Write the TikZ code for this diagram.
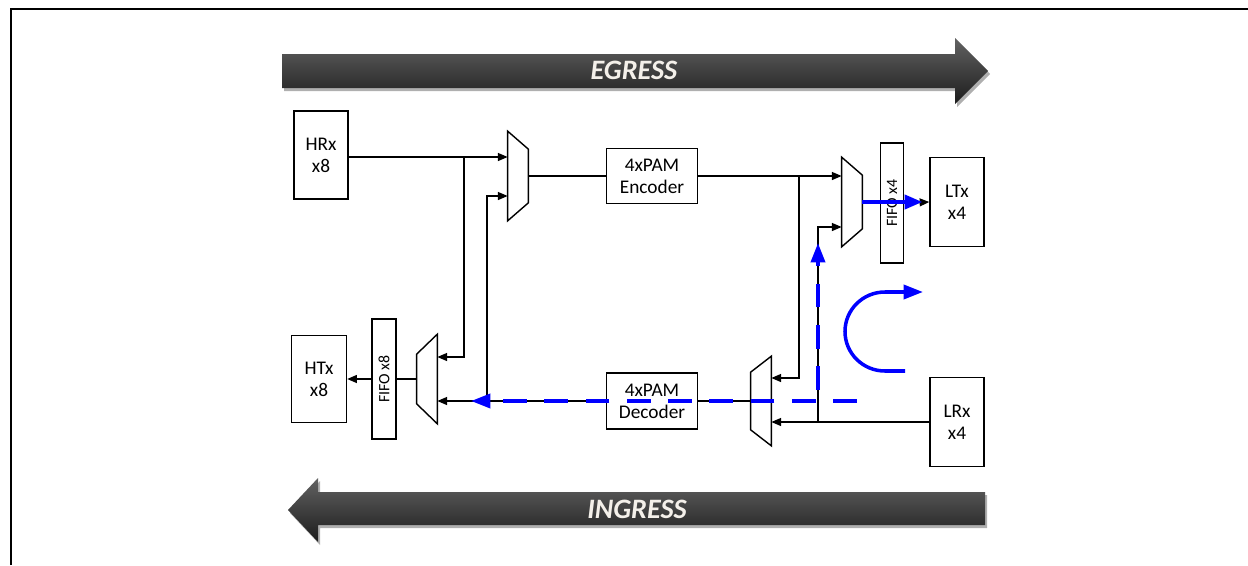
\documentclass[tikz,border=0pt]{standalone}
\usepackage{fontspec}
\setmainfont{Carlito}
\usepackage{tikz}
\usetikzlibrary{arrows.meta, positioning, calc}
\definecolor{path_blue}{RGB}{0, 0, 255}
\definecolor{band_top}{RGB}{98, 98, 98}
\definecolor{band_bot}{RGB}{28, 28, 28}
\definecolor{band_shadow}{RGB}{175, 175, 175}
\definecolor{band_text}{RGB}{244, 240, 234}
\tikzstyle{arrow} = [line width=0.8pt,-{Triangle[length=5.5pt,width=4.5pt]}]
\tikzstyle{wire} = [line width=0.8pt]
\tikzstyle{blk} = [rectangle, draw, line width=0.8pt, align=center, inner sep=0pt, font=\fontsize{11}{12.5}\selectfont]
\tikzstyle{fifo} = [rectangle, draw, line width=0.8pt, inner sep=0pt, font=\fontsize{9}{10}\selectfont]
\tikzstyle{muxbox} = [rectangle, inner sep=0pt, minimum width=0.4cm, minimum height=1.78cm]
\tikzstyle{bluepath} = [path_blue, line width=2pt, -{Triangle[length=11pt,width=8pt]}]
\tikzstyle{bluedash} = [bluepath, dash pattern=on 13.5pt off 10pt]
\tikzstyle{band} = [top color=band_top, bottom color=band_bot, draw=none]
\tikzstyle{bandlabel} = [text=band_text, font=\fontsize{16}{18}\selectfont\bfseries\itshape]

\begin{document}
\begin{tikzpicture}[x=0.02cm, y=-0.02cm]
\useasboundingbox (0,0) rectangle (1248,565);

% Frame
\draw[line width=1.1pt] (11,565) -- (11,9) -- (1248,9);

% Egress / ingress bands
\fill[band_shadow] (284,57) -- (957,57) -- (957,41) -- (990,74) -- (957,107) -- (957,91) -- (284,91) -- cycle;
\shade[band] (282,54) -- (955,54) -- (955,38) -- (988,71) -- (955,104) -- (955,88) -- (282,88) -- cycle;
\node[bandlabel] (egress) at (634,70) {EGRESS};

\fill[band_shadow] (320,495) -- (320,481) -- (290,513) -- (320,545) -- (320,528) -- (987,528) -- (987,495) -- cycle;
\shade[band] (985,492) -- (318,492) -- (318,478) -- (288,510) -- (318,542) -- (318,525) -- (985,525) -- cycle;
\node[bandlabel] (ingress) at (637,509) {INGRESS};

% Blocks
\node[blk, minimum width=1.08cm, minimum height=1.76cm] (hrx) at (321,155) {HRx\\x8};
\node[blk, minimum width=1.82cm, minimum height=1.1cm] (enc) at (652,176) {4xPAM\\Encoder};
\node[blk, minimum width=1.08cm, minimum height=1.78cm] (ltx) at (957,202) {LTx\\x4};
\node[fifo, minimum width=0.46cm, minimum height=2.4cm] (fifo4) at (892,203) {\rotatebox{90}{FIFO x4}};

\node[blk, minimum width=1.1cm, minimum height=1.74cm] (htx) at (319,379) {HTx\\x8};
\node[fifo, minimum width=0.48cm, minimum height=2.4cm] (fifo8) at (384,379) {\rotatebox{90}{FIFO x8}};
\node[blk, minimum width=1.82cm, minimum height=1.12cm] (dec) at (652,401) {4xPAM\\Decoder};
\node[blk, minimum width=1.08cm, minimum height=1.78cm] (lrx) at (957,422) {LRx\\x4};

% Muxes
\node[muxbox] (mux1) at (518,176) {};
\node[muxbox] (mux2) at (852,202) {};
\node[muxbox] (mux3) at (427,379) {};
\node[muxbox] (mux4) at (761,401) {};
\draw[wire] (mux1.north west) -- ($(mux1.north east)+(0,18)$) -- ($(mux1.south east)+(0,-18)$) -- (mux1.south west) -- cycle;
\draw[wire] (mux2.north west) -- ($(mux2.north east)+(0,18)$) -- ($(mux2.south east)+(0,-18)$) -- (mux2.south west) -- cycle;
\draw[wire] (mux3.north east) -- (mux3.south east) -- ($(mux3.south west)+(0,-20)$) -- ($(mux3.north west)+(0,20)$) -- cycle;
\draw[wire] (mux4.north east) -- (mux4.south east) -- ($(mux4.south west)+(0,-16)$) -- ($(mux4.north west)+(0,16)$) -- cycle;

% Mux inputs
\coordinate (m1a) at ($(mux1.west)+(0,-19)$);
\coordinate (m1b) at ($(mux1.west)+(0,20)$);
\coordinate (m2a) at ($(mux2.west)+(0,-25)$);
\coordinate (m2b) at ($(mux2.west)+(0,25)$);
\coordinate (m3a) at ($(mux3.east)+(0,-22)$);
\coordinate (m4a) at ($(mux4.east)+(0,-23)$);

% Branch points
\coordinate (b1) at (464,157);
\coordinate (b2) at (487,401);
\coordinate (b3) at (799,176);
\coordinate (b4) at (818,422);

% Egress path
\draw[arrow] (hrx.east |- m1a) -- (m1a);
\draw[arrow] (b1) |- (m3a);
\draw[wire] (mux1.east) -- (enc.west);
\draw[arrow] (enc.east) -- (enc.east -| mux2.west);
\draw[arrow] (b3) |- (m4a);
\draw[wire] (mux2.east) -- (fifo4.west);
\draw[arrow] (fifo4.east) -- (ltx.west);

% Ingress path
\draw[arrow] (lrx.west) -- (lrx.west -| mux4.east);
\draw[arrow] (b4) |- (m2b);
\draw[wire] (mux4.west) -- (dec.east);
\draw[arrow] (dec.west) -- (dec.west -| mux3.east);
\draw[arrow] (b2) |- (m1b);
\draw[wire] (mux3.west) -- (fifo8.east);
\draw[arrow] (fifo8.west) -- (htx.east);

% Loopback paths
\coordinate (hs) at (857,401);
\coordinate (ht) at (471,401);
\coordinate (vs) at (818,390);
\coordinate (vt) at (818,243);
\coordinate (us) at (905,371);
\coordinate (ut) at (923,292);
\draw[bluedash] (hs) -- (ht);
\draw[bluedash] (vs) -- (vt);
\draw[bluepath, -{Triangle[length=10pt,width=8pt]}] (mux2.east) -- ($(ltx.west)+(-7,0)$);
\draw[bluepath] (us) -- (885,371) arc[start angle=90, end angle=270, x radius=40, y radius=39.5] -- (ut);

\end{tikzpicture}
\end{document}
